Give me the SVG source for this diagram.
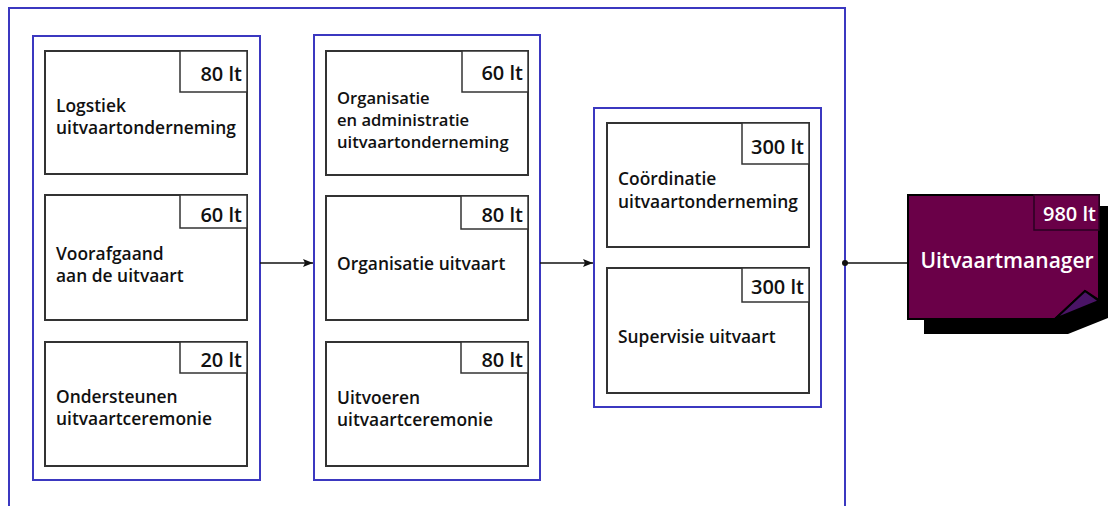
<svg xmlns="http://www.w3.org/2000/svg" width="1108" height="506" viewBox="0 0 1108 506">
<defs>
<style>
.grp{fill:none;stroke:#3b38c0;stroke-width:2}
.box{fill:#fff;stroke:#333;stroke-width:2}
.badge{fill:#fff;stroke:#333;stroke-width:1.5}
.t{font-family:"Open Sans","Liberation Sans",sans-serif;font-weight:600;font-size:17.4px;fill:#111}
.t3{font-size:16.6px}
.b{font-family:"Open Sans","Liberation Sans",sans-serif;font-weight:600;font-size:20px;fill:#111;text-anchor:end}
.conn{stroke:#111;stroke-width:1.5;fill:none}
</style>
<marker id="arr" viewBox="0 0 10 8" refX="10" refY="4" markerWidth="10" markerHeight="8" markerUnits="userSpaceOnUse" orient="auto">
<path d="M0,0 L10,4 L0,8 L2,4 Z" fill="#111"/>
</marker>
</defs>
<rect width="1108" height="506" fill="#fff"/>
<rect id="outer" class="grp" x="9" y="8" width="836" height="510"/>
<g id="col1"><rect class="grp" x="33" y="36" width="227" height="444"/></g>
<g id="col2"><rect class="grp" x="314" y="35" width="226" height="445"/></g>
<g id="col3"><rect class="grp" x="594" y="108" width="227" height="299"/></g>

<g id="n-logistiek"><rect class="box" x="45" y="51" width="202" height="123"/><rect class="badge" x="180" y="51" width="67" height="41"/><text class="b" x="242" y="81">80 lt</text><text class="t" x="56" y="112">Logstiek</text><text class="t" x="56" y="134">uitvaartonderneming</text></g>
<g id="n-voorafgaand"><rect class="box" x="45" y="195" width="202" height="125"/><rect class="badge" x="180" y="195" width="67" height="33"/><text class="b" x="242" y="222">60 lt</text><text class="t" x="56" y="260">Voorafgaand</text><text class="t" x="56" y="282">aan de uitvaart</text></g>
<g id="n-ondersteunen"><rect class="box" x="45" y="342" width="202" height="124"/><rect class="badge" x="180" y="342" width="67" height="31"/><text class="b" x="242" y="367">20 lt</text><text class="t" x="56" y="403">Ondersteunen</text><text class="t" x="56" y="425">uitvaartceremonie</text></g>

<g id="n-orgadmin"><rect class="box" x="326" y="51" width="202" height="124"/><rect class="badge" x="462" y="51" width="66" height="41"/><text class="b" x="523" y="80">60 lt</text><text class="t t3" x="337" y="104">Organisatie</text><text class="t t3" x="337" y="126">en administratie</text><text class="t t3" x="337" y="148">uitvaartonderneming</text></g>
<g id="n-orguitvaart"><rect class="box" x="326" y="196" width="202" height="124"/><rect class="badge" x="461" y="196" width="67" height="33"/><text class="b" x="523" y="222">80 lt</text><text class="t" x="337" y="270">Organisatie uitvaart</text></g>
<g id="n-uitvoeren"><rect class="box" x="326" y="342" width="202" height="124"/><rect class="badge" x="461" y="342" width="67" height="31"/><text class="b" x="523" y="367">80 lt</text><text class="t" x="337" y="404">Uitvoeren</text><text class="t" x="337" y="426">uitvaartceremonie</text></g>

<g id="n-coordinatie"><rect class="box" x="607" y="123" width="202" height="124"/><rect class="badge" x="742" y="123" width="67" height="41"/><text class="b" x="804" y="154">300 lt</text><text class="t" x="618" y="185">Coördinatie</text><text class="t" x="618" y="208">uitvaartonderneming</text></g>
<g id="n-supervisie"><rect class="box" x="607" y="268" width="202" height="125"/><rect class="badge" x="742" y="268" width="67" height="34"/><text class="b" x="804" y="294">300 lt</text><text class="t" x="618" y="343">Supervisie uitvaart</text></g>

<g id="connectors">
<line class="conn" x1="260" y1="263" x2="313" y2="263" marker-end="url(#arr)"/>
<line class="conn" x1="540" y1="263" x2="593" y2="263" marker-end="url(#arr)"/>
<line class="conn" x1="845" y1="263" x2="908" y2="263"/>
<circle cx="845" cy="263" r="3" fill="#111"/>
</g>

<g id="n-manager">
<polygon points="924,206 1108,206 1108,318 1068,334 924,334" fill="#000"/>
<polygon points="908,195 1099,195 1099,300 1085,291 1055,319 908,319" fill="#6a0048" stroke="#000" stroke-width="2"/>
<polygon points="1055,319 1085,291 1099,301" fill="#4a1466" stroke="#000" stroke-width="2"/>
<rect x="1034" y="195" width="65" height="35" fill="#6a0048" stroke="#2a0020" stroke-width="1.5"/>
<text x="1096" y="221" font-family="Open Sans, Liberation Sans, sans-serif" font-weight="600" font-size="20" fill="#fff" text-anchor="end">980 lt</text>
<text x="1007" y="268" font-family="Open Sans, Liberation Sans, sans-serif" font-weight="600" font-size="21" fill="#fff" text-anchor="middle">Uitvaartmanager</text>
</g>
</svg>
